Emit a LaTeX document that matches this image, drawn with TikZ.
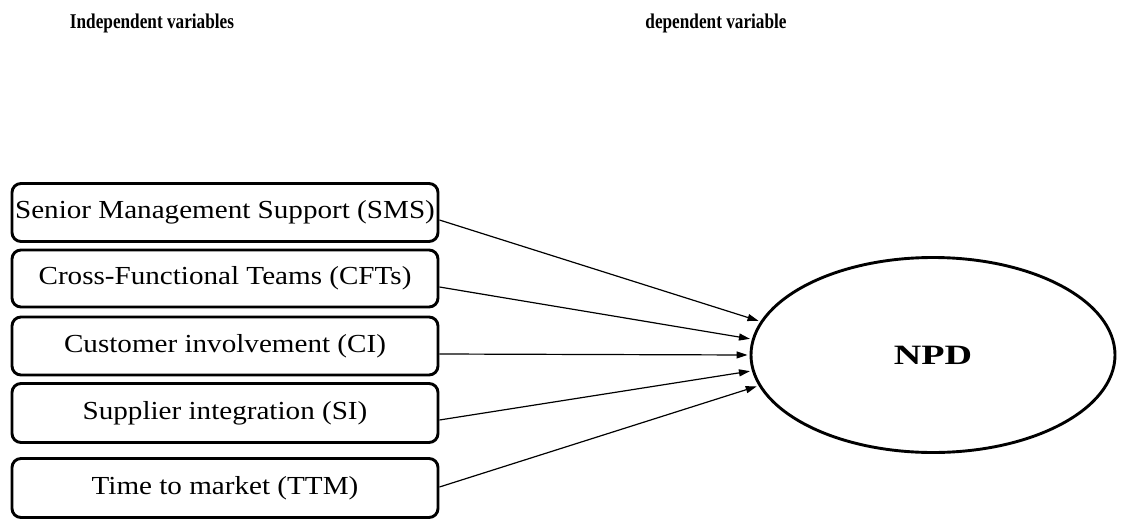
\documentclass[tikz,border=0pt]{standalone}
\usepackage{fontspec}
\setmainfont{Liberation Serif}
\usetikzlibrary{arrows.meta,shapes.geometric}
\begin{document}
\begin{tikzpicture}[x=1pt,y=-1pt,
  varbox/.style={draw,line width=2.9pt,rounded corners=9pt,minimum width=426pt,inner sep=0pt,anchor=center},
  headtext/.style={font=\fontsize{21}{24}\selectfont\bfseries},
  link/.style={line width=1.2pt,-{Triangle[length=11pt,width=7pt]},shorten >=2pt}]
\useasboundingbox (0,0) rectangle (1121,522);
\node[headtext] (hi) at (152,23) {\scalebox{0.82}[1]{Independent variables}};
\node[headtext] (hd) at (716,23) {\scalebox{0.82}[1]{dependent variable}};
\node[varbox,minimum height=58pt] (b1) at (225,212.5) {\scalebox{1.12}[1]{\fontsize{26}{30}\selectfont Senior Management Support (SMS)}};
\node[varbox,minimum height=57pt] (b2) at (225,278.5) {\scalebox{1.12}[1]{\fontsize{26}{30}\selectfont Cross-Functional Teams (CFTs)}};
\node[varbox,minimum height=58pt] (b3) at (225,346) {\scalebox{1.12}[1]{\fontsize{26}{30}\selectfont Customer involvement (CI)}};
\node[varbox,minimum height=59pt] (b4) at (225,413) {\scalebox{1.12}[1]{\fontsize{26}{30}\selectfont Supplier integration (SI)}};
\node[varbox,minimum height=59pt] (b5) at (225,488) {\scalebox{1.12}[1]{\fontsize{26}{30}\selectfont Time to market (TTM)}};
\node[draw,ellipse,line width=2.9pt,minimum width=364pt,minimum height=195pt,inner sep=0pt] (npd) at (933,355) {\scalebox{1.36}[1]{\fontsize{28}{32}\selectfont\bfseries NPD}};
\draw[link] ([yshift=-7.5pt]b1.east) -- (npd.169.5);
\draw[link] ([yshift=-8.5pt]b2.east) -- (npd.175);
\draw[link] ([yshift=-8pt]b3.east) -- (npd.180);
\draw[link] ([yshift=-7pt]b4.east) -- (npd.185);
\draw[link] ([yshift=1pt]b5.east) -- (npd.190.5);
\end{tikzpicture}
\end{document}
